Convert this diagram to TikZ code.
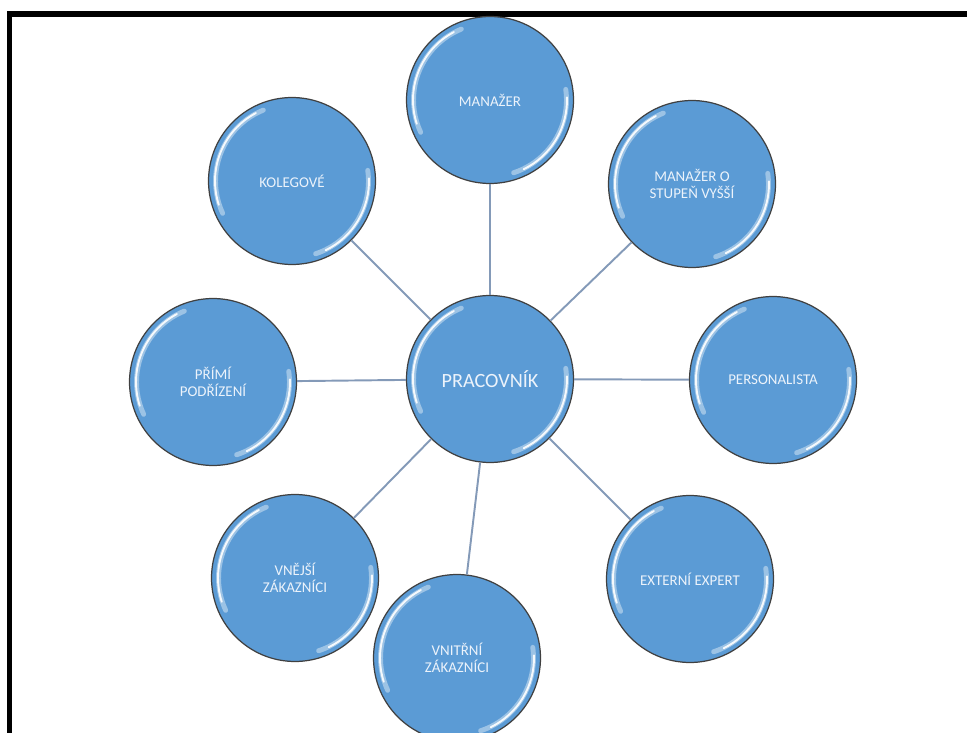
\documentclass[tikz,border=0pt]{standalone}
\usepackage{fontspec}
\setmainfont{Carlito}
\usepackage{tikz}
\definecolor{bubblefill}{RGB}{91,155,213}
\definecolor{bubbletext}{RGB}{236,243,251}
\definecolor{linkcol}{RGB}{132,154,184}

\begin{document}
\begin{tikzpicture}[x=0.02cm,y=-0.02cm,
        bubble/.style={circle,draw=black!75,line width=0.7pt,fill=bubblefill,
            minimum size=3.34cm,inner sep=0pt,align=center,text=bubbletext,
            font=\fontsize{8.5}{10}\selectfont},
        glow/.style={white,opacity=0.4,line width=2.8pt,line cap=round},
        shine/.style={white,opacity=0.9,line width=1.1pt,line cap=round},
        link/.style={draw=linkcol,line width=1.1pt}]
        \useasboundingbox (0,0) rectangle (967,733);
        % Frame (cut off at right and bottom)
        \draw[black,line width=3.4pt](967,14)--(9.5,14)--(9.5,733);
        % Central bubble
        \node[bubble,font=\fontsize{11.5}{13}\selectfont](ctr) at (490,379) {PRACOVNÍK};
        % Outer bubbles
        \node[bubble](mgr) at (490,100) {MANAŽER};
        \node[bubble](mgrup) at (692,184) {MANAŽER O\\STUPEŇ VYŠŠÍ};
        \node[bubble](kol) at (292,181) {KOLEGOVÉ};
        \node[bubble](prim) at (213,382) {PŘÍMÍ\\PODŘÍZENÍ};
        \node[bubble](pers) at (773,380) {PERSONALISTA};
        \node[bubble](vnej) at (295,578) {VNĚJŠÍ\\ZÁKAZNÍCI};
        \node[bubble](ext) at (690,579) {EXTERNÍ EXPERT};
        \node[bubble](vnit) at (457,658) {VNITŘNÍ\\ZÁKAZNÍCI};
        % Gloss on the bubbles
        \foreach \n in {ctr,mgr,mgrup,kol,prim,pers,vnej,ext,vnit}{
            \begin{scope}[shift={(\n.center)},x=1cm,y=1cm]
                \draw[glow](112:1.53)arc(112:205:1.53);
                \draw[shine](118:1.54)arc(118:198:1.54);
                \draw[glow](-72:1.53)arc(-72:8:1.53);
                \draw[shine](-64:1.54)arc(-64:2:1.54);
            \end{scope}
        }
        % Links
        \draw[link](ctr)--(mgr);
        \draw[link](ctr)--(mgrup);
        \draw[link](ctr)--(kol);
        \draw[link](ctr)--(prim);
        \draw[link](ctr)--(pers);
        \draw[link](ctr)--(vnej);
        \draw[link](ctr)--(ext);
        \draw[link](ctr)--(vnit);
    \end{tikzpicture}
\end{document}
